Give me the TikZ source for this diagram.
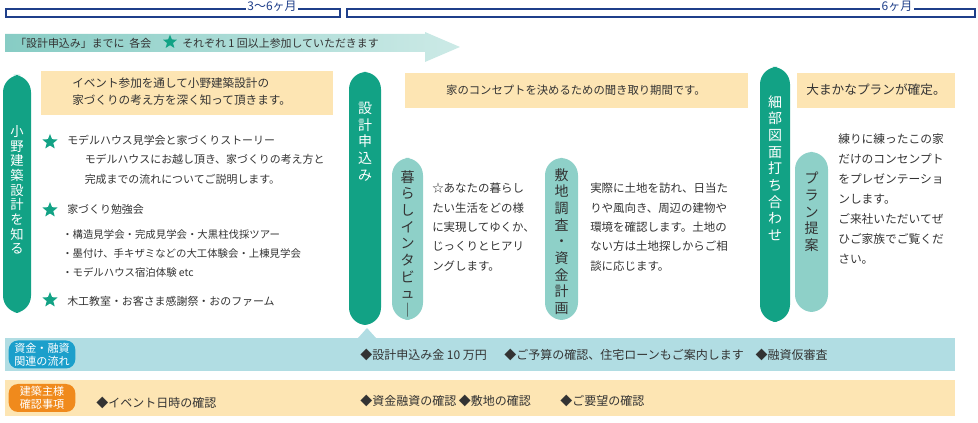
\documentclass[tikz,border=0pt]{standalone}
\usepackage{fontspec}
\setmainfont{Noto Sans CJK JP}
\usetikzlibrary{shapes.geometric}
\definecolor{dgreen}{HTML}{12A285}
\definecolor{lteal}{HTML}{8ED0C8}
\definecolor{ylw}{HTML}{FDE5B3}
\definecolor{lblue}{HTML}{B1DDE3}
\definecolor{bblue}{HTML}{1C9FCB}
\definecolor{orng}{HTML}{F08A1C}
\definecolor{navy}{HTML}{1F3F8A}
\definecolor{txt}{HTML}{333333}
\begin{document}
\begin{tikzpicture}[x=0.75pt,y=-0.75pt,
  pill/.style={rounded corners=13pt,inner sep=0pt},
  vtxt/.style={align=center,font=\fontsize{10.5}{12.5}\selectfont,text=white,inner sep=0pt},
  body/.style={anchor=north west,align=left,font=\fontsize{8.2}{14.5}\selectfont,text=txt,inner sep=0pt},
  gstar/.style={star,star points=5,star point ratio=2.3,fill=dgreen,minimum size=12pt,inner sep=0pt},
  band/.style={anchor=west,font=\fontsize{9}{10}\selectfont,text=txt,inner sep=0pt},
  lab/.style={rounded corners=7pt,text=white,align=center,font=\fontsize{8.3}{9.5}\selectfont,inner sep=1pt}]
\useasboundingbox (0,0) rectangle (978,423);
% brackets
\draw[navy,line width=0.8pt] (6,9) rectangle (340,17);
\node[fill=white,text=navy,font=\fontsize{9}{10}\selectfont,inner xsep=1pt,inner ysep=0pt] (b1) at (272,6) {3〜6ヶ月};
\draw[navy,line width=0.8pt] (347,9) rectangle (975,17);
\node[fill=white,text=navy,font=\fontsize{9}{10}\selectfont,inner xsep=1pt,inner ysep=0pt] (b2) at (897,6) {6ヶ月};
% arrow
\shade[left color=lteal!95!teal,right color=lteal!45] (5,34) -- (425,34) -- (425,32) -- (460,47) -- (425,62) -- (425,52) -- (5,52) -- cycle;
\node[anchor=west,font=\fontsize{8.2}{9}\selectfont,text=txt,inner sep=0pt] (ar) at (15,43) {「設計申込み」までに\ \ 各会};
\node[gstar,minimum size=11pt] (st0) at (170,42) {};
\node[anchor=west,font=\fontsize{8.2}{9}\selectfont,text=txt,inner sep=0pt] (ar2) at (182,43) {それぞれ 1 回以上参加していただきます};
% pill 1
\fill[dgreen,pill] (3,75) rectangle (31,313);
\node[vtxt,font=\fontsize{10}{11}\selectfont] (p1) at (17,190) {小\\野\\建\\築\\設\\計\\を\\知\\る};
\fill[ylw] (41,71) rectangle (333,115);
\node[body,font=\fontsize{8.7}{13}\selectfont] (y1) at (72,77) {イベント参加を通して小野建築設計の\\家づくりの考え方を深く知って頂きます。};
\node[gstar] (s1) at (50,142) {};
\node[body] (t1) at (67,135) {モデルハウス見学会と家づくりストーリー\\\hspace{1.6em}モデルハウスにお越し頂き、家づくりの考え方と\\\hspace{1.6em}完成までの流れについてご説明します。};
\node[gstar] (s2) at (50,210) {};
\node[body] (t2) at (67,204) {家づくり勉強会};
\node[body,font=\fontsize{7.8}{14.5}\selectfont] (t3) at (62,229) {・構造見学会・完成見学会・大黒柱伐採ツアー\\・墨付け、手キザミなどの大工体験会・上棟見学会\\・モデルハウス宿泊体験 etc};
\node[gstar] (s3) at (50,300) {};
\node[body] (t4) at (67,296) {木工教室・お客さま感謝祭・おのファーム};
% pill 2
\fill[dgreen,pill] (349,72) rectangle (381,325);
\node[vtxt,anchor=north] (p2) at (365,102) {設\\計\\申\\込\\み};
\fill[ylw] (405,73) rectangle (748,108);
\node[font=\fontsize{8.5}{9}\selectfont,text=txt] (y2) at (576,90) {家のコンセプトを決めるための聞き取り期間です。};
\fill[lteal,pill] (392,158) rectangle (423,320);
\node[vtxt,text=txt,anchor=north] (p3) at (407.5,170) {暮\\ら\\し\\イ\\ン\\タ\\ビ\\ュ\\｜};
\node[body,font=\fontsize{8.6}{14.5}\selectfont] (t5) at (432,183) {☆あなたの暮らし\\たい生活をどの様\\に実現してゆくか、\\じっくりとヒアリ\\ングします。};
\fill[lteal,pill] (545,158) rectangle (578,320);
\node[vtxt,text=txt,anchor=north] (p4) at (561.5,168) {敷\\地\\調\\査\\・\\資\\金\\計\\画};
\node[body,font=\fontsize{8.6}{14.5}\selectfont] (t6) at (590,183) {実際に土地を訪れ、日当た\\りや風向き、周辺の建物や\\環境を確認します。土地の\\ない方は土地探しからご相\\談に応じます。};
% pill 3
\fill[dgreen,pill] (760,67) rectangle (790,322);
\node[vtxt,anchor=north] (p5) at (775,95) {細\\部\\図\\面\\打\\ち\\合\\わ\\せ};
\fill[ylw] (797,73) rectangle (955,108);
\node[font=\fontsize{9.5}{10}\selectfont,text=txt] (y3) at (876,90) {大まかなプランが確定。};
\fill[lteal,pill] (795,152) rectangle (828,312);
\node[vtxt,text=txt,anchor=north] (p6) at (811.5,172) {プ\\ラ\\ン\\提\\案};
\node[body,font=\fontsize{8.8}{15}\selectfont] (t7) at (838,133) {練りに練ったこの家\\だけのコンセンプト\\をプレゼンテーショ\\ンします。\\ご来社いただいてぜ\\ひご家族でご覧くだ\\さい。};
% bands
\fill[lblue] (5,338) rectangle (955,371);
\fill[lblue] (358,338) -- (367,328) -- (376,338) -- cycle;
\node[lab,fill=bblue,minimum width=50pt,minimum height=21pt] (l1) at (42,354.5) {資金・融資\\関連の流れ};
\node[band] (f1) at (360,355) {◆設計申込み金 10 万円\quad\ \ ◆ご予算の確認、住宅ローンもご案内します\quad◆融資仮審査};
\fill[ylw] (5,380) rectangle (955,416);
\node[lab,fill=orng,minimum width=50pt,minimum height=21pt] (l2) at (42,398) {建築主様\\確認事項};
\node[band] (f2) at (96,403) {◆イベント日時の確認};
\node[band] (f3) at (360,401) {◆資金融資の確認 ◆敷地の確認\qquad\ \ ◆ご要望の確認};
\end{tikzpicture}
\end{document}
